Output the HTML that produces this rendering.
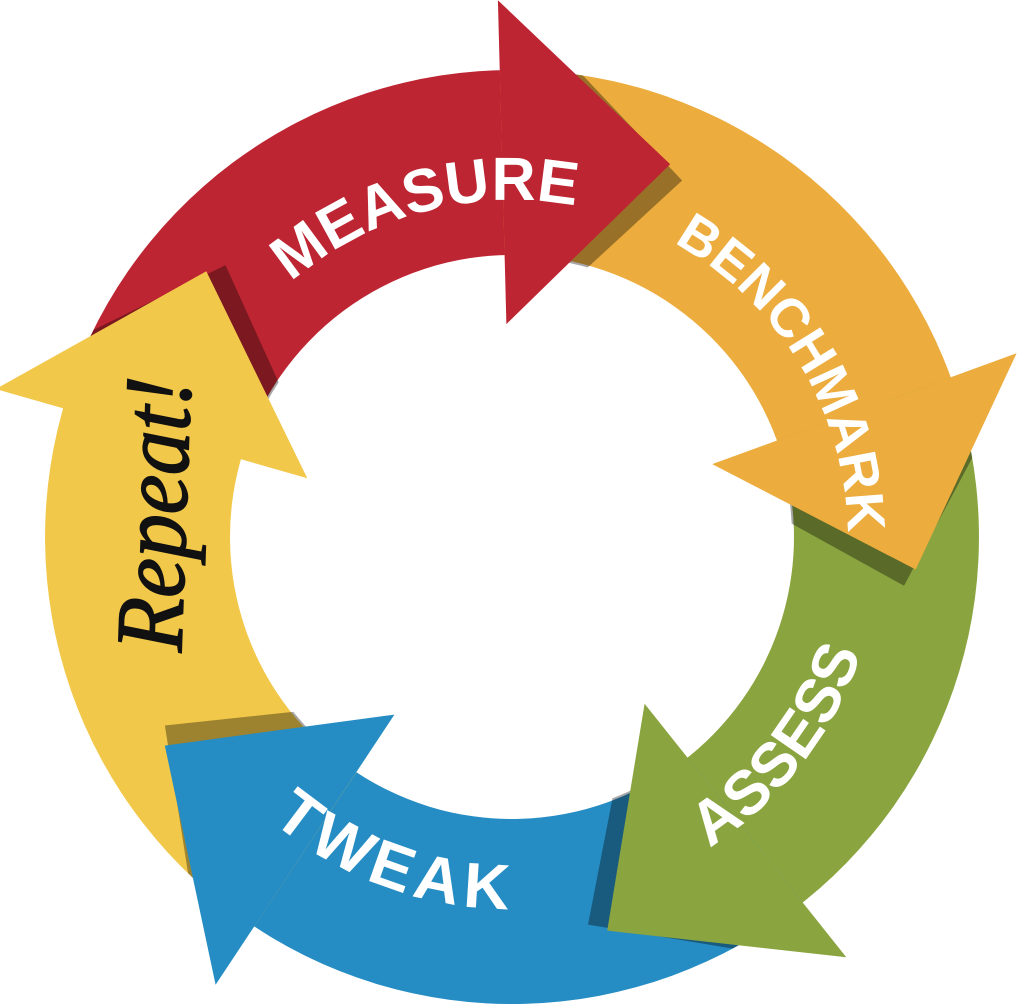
<!DOCTYPE html>
<html><head><meta charset="utf-8">
<style>
html,body{margin:0;padding:0;background:#fff;width:1021px;height:1005px;overflow:hidden}
svg{display:block}
.lbl{font-family:"Liberation Sans",sans-serif;font-weight:bold;fill:#fff}
</style></head>
<body>
<svg id="s" width="1021" height="1005" viewBox="0 0 1021 1005" xmlns="http://www.w3.org/2000/svg">
<defs>
<path id="pM"/><path id="pB"/><path id="pA"/><path id="pT"/>
<clipPath id="ring"><path id="ringp" fill-rule="evenodd" clip-rule="evenodd"/></clipPath>
</defs>
<g id="bodies"></g>
<g id="shadows" clip-path="url(#ring)"></g>
<g id="heads"></g>
<text class="lbl" font-size="61"><textPath href="#pM" startOffset="50%" text-anchor="middle">MEASURE</textPath></text>
<text class="lbl" font-size="54"><textPath href="#pB" startOffset="50%" text-anchor="middle">BENCHMARK</textPath></text>
<text class="lbl" font-size="62"><textPath href="#pA" startOffset="50%" text-anchor="middle">ASSESS</textPath></text>
<text class="lbl" font-size="64" letter-spacing="6"><textPath href="#pT" startOffset="50%" text-anchor="middle">TWEAK</textPath></text>
<text x="0" y="0" transform="translate(186,515) rotate(-88)" text-anchor="middle" font-family="'Liberation Serif',serif" font-style="italic" font-size="96" fill="#111" stroke="#111" stroke-width="1.5" textLength="275" lengthAdjust="spacingAndGlyphs">Repeat!</text>
</svg>
<script>
var cx=512,cy=537,ri=282,ro=467;
function P(r,a){a=a*Math.PI/180;return [(cx+r*Math.cos(a)).toFixed(1),(cy+r*Math.sin(a)).toFixed(1)];}
function sector(a1,a2){var o1=P(ro,a1),o2=P(ro,a2),i2=P(ri,a2),i1=P(ri,a1);var lg=(a2-a1)>180?1:0;
return "M"+o1+" A"+ro+","+ro+" 0 "+lg+" 1 "+o2+" L"+i2+" A"+ri+","+ri+" 0 "+lg+" 0 "+i1+"Z";}
var ns="http://www.w3.org/2000/svg";
function add(g,d,f,op){var e=document.createElementNS(ns,"path");e.setAttribute("d",d);e.setAttribute("fill",f);if(op)e.setAttribute("fill-opacity",op);document.getElementById(g).appendChild(e);}
var segs=[
 {c:"#BE2532",a1:-164,b:-91.5,t:-67},
 {c:"#ECAC3E",a1:-91.5,b:-20,t:4.6},
 {c:"#8AA43F",a1:-20,b:51.5,t:76.4},
 {c:"#268DC4",a1:51.5,b:123.5,t:149},
 {c:"#F2C84A",a1:123.5,b:196,t:221}
];
var rp=P(ro,0),rq=P(ri,0);
document.getElementById("ringp").setAttribute("d","M"+(cx+ro)+","+cy+" a"+ro+","+ro+" 0 1 0 "+(-2*ro)+",0 a"+ro+","+ro+" 0 1 0 "+(2*ro)+",0Z M"+(cx+ri-2)+","+cy+" a"+(ri-2)+","+(ri-2)+" 0 1 0 "+(-2*(ri-2))+",0 a"+(ri-2)+","+(ri-2)+" 0 1 0 "+(2*(ri-2))+",0Z");
segs.forEach(function(s){add("bodies",sector(s.a1,s.b+2),s.c);});
function tri(s,da,dr){var a=P(213+dr,s.b+da),b=P(537+dr,s.b+da),t=P(405+dr,s.t+da);return "M"+a+" L"+b+" L"+t+"Z";}
segs.forEach(function(s){add("shadows",tri(s,2.5,-10),"#000","0.35");});
segs.forEach(function(s){add("heads",tri(s,0,0),s.c);});
function arcTop(id,th,r){var a=P(r,th-90),b=P(r,th+90);document.getElementById(id).setAttribute("d","M"+a+" A"+r+","+r+" 0 0 1 "+b);}
function arcBot(id,th,r){var a=P(r,th+90),b=P(r,th-90);document.getElementById(id).setAttribute("d","M"+a+" A"+r+","+r+" 0 0 0 "+b);}
arcTop("pM",-105,340);
arcTop("pB",-31,338);
arcBot("pA",38,368);
arcBot("pT",110,372);
</script>
</body></html>
